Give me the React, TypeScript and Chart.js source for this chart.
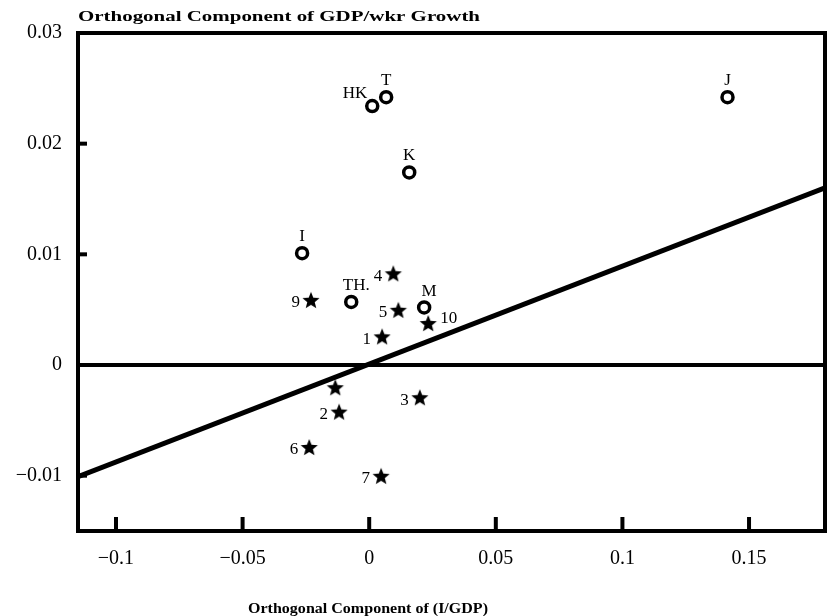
import React, { useEffect, useRef } from 'react';
import { Chart, registerables } from 'chart.js';

Chart.register(...registerables);

// ---- data ----
const circleLabels = ['HK', 'T', 'K', 'J', 'I', 'TH.', 'M'];
const circleX = [0.0012, 0.0067, 0.0158, 0.1415, -0.0265, -0.0071, 0.0217];
const circleY = [0.0234, 0.0242, 0.0174, 0.0242, 0.0101, 0.0057, 0.0052];

const starLabels = ['4', '9', '5', '1', '10', '', '3', '2', '6', '7'];
const starX = [0.0095, -0.023, 0.0115, 0.0051, 0.0233, -0.0134, 0.02, -0.0119, -0.0237, 0.0047];
const starY = [0.0082, 0.0058, 0.0049, 0.0025, 0.0037, -0.0021, -0.003, -0.0043, -0.0075, -0.0101];

const fitX = [-0.115, 0.18];
const fitY = [-0.0101, 0.016];
const zeroX = [-0.115, 0.18];
const zeroY = [0, 0];

const xTicks = [-0.1, -0.05, 0, 0.05, 0.1, 0.15];
const yTicks = [-0.01, 0, 0.01, 0.02, 0.03];

const xTitle = 'Orthogonal Component of (I/GDP)';
const yTitle = 'Orthogonal Component of GDP/wkr Growth';

// label placement (style only)
const circlePlace = ['aboveLeft', 'above', 'above', 'above', 'above', 'aboveRight', 'aboveRight'];
const starPlace = ['left', 'left', 'left', 'left', 'right', 'none', 'left', 'left', 'left', 'left'];

const SERIF = '"Liberation Serif", "Times New Roman", serif';

function makeStar(outer: number, inner: number): HTMLCanvasElement {
  const size = Math.ceil(outer * 2 + 2);
  const c = document.createElement('canvas');
  c.width = size;
  c.height = size;
  const ctx = c.getContext('2d')!;
  const cx = size / 2;
  const cy = size / 2;
  ctx.beginPath();
  for (let i = 0; i < 10; i++) {
    const r = i % 2 === 0 ? outer : inner;
    const a = -Math.PI / 2 + (i * Math.PI) / 5;
    const px = cx + r * Math.cos(a);
    const py = cy + r * Math.sin(a);
    if (i === 0) ctx.moveTo(px, py);
    else ctx.lineTo(px, py);
  }
  ctx.closePath();
  ctx.fillStyle = '#000';
  ctx.fill();
  return c;
}

const fmt = (v: number) => (v < 0 ? '\u2212' + String(Math.abs(v)) : String(v));

const decorPlugin = {
  id: 'decor',
  afterDatasetsDraw(chart: any) {
    const ctx = chart.ctx as CanvasRenderingContext2D;
    const ca = chart.chartArea;
    const xs = chart.scales.x;
    const ys = chart.scales.y;
    ctx.save();
    // point labels
    ctx.fillStyle = '#000';
    ctx.font = `17px ${SERIF}`;
    chart.data.datasets.forEach((ds: any, di: number) => {
      if (!ds.pointLabels) return;
      const meta = chart.getDatasetMeta(di);
      meta.data.forEach((el: any, i: number) => {
        const text = ds.pointLabels[i];
        const place = ds.labelPlace[i];
        if (!text || place === 'none') return;
        ctx.textBaseline = 'middle';
        let x = el.x;
        let y = el.y;
        if (place === 'left') {
          ctx.textAlign = 'right';
          x -= 11;
          y += 2;
        } else if (place === 'right') {
          ctx.textAlign = 'left';
          x += 12;
          y -= 6;
        } else if (place === 'above') {
          ctx.textAlign = 'center';
          y -= 17;
        } else if (place === 'aboveLeft') {
          ctx.textAlign = 'right';
          x -= 5;
          y -= 13;
        } else if (place === 'aboveRight') {
          ctx.textAlign = 'center';
          x += 5;
          y -= 16;
        }
        ctx.fillText(text, x, y);
      });
    });
    // frame
    ctx.strokeStyle = '#000';
    ctx.lineWidth = 4;
    ctx.strokeRect(ca.left, ca.top, ca.right - ca.left, ca.bottom - ca.top);
    // inward ticks
    ctx.lineCap = 'butt';
    xTicks.forEach((v) => {
      const px = xs.getPixelForValue(v);
      ctx.beginPath();
      ctx.moveTo(px, ca.bottom);
      ctx.lineTo(px, ca.bottom - 14);
      ctx.stroke();
    });
    yTicks.forEach((v) => {
      const py = ys.getPixelForValue(v);
      ctx.beginPath();
      ctx.moveTo(ca.left, py);
      ctx.lineTo(ca.left + 9, py);
      ctx.stroke();
    });
    // axis titles (stretched to match the wide face)
    const drawStretched = (text: string, x: number, y: number, target: number, align: 'left' | 'center') => {
      ctx.font = `bold 14px ${SERIF}`;
      ctx.textBaseline = 'middle';
      ctx.textAlign = 'left';
      const w = ctx.measureText(text).width;
      const sx = target / w;
      ctx.save();
      const startX = align === 'left' ? x : x - target / 2;
      ctx.translate(startX, y);
      ctx.scale(sx, 1);
      ctx.fillText(text, 0, 0);
      ctx.restore();
    };
    drawStretched(yTitle, ca.left, 17, 402, 'left');
    drawStretched(xTitle, 368, 609, 240, 'center');
    ctx.restore();
  },
};

export default function App() {
  const ref = useRef<HTMLCanvasElement>(null);
  useEffect(() => {
    const star = makeStar(9, 3.9);
    const chart = new Chart(ref.current!, {
      type: 'scatter',
      data: {
        datasets: [
          {
            data: circleX.map((x, i) => ({ x, y: circleY[i] })),
            pointStyle: 'circle',
            pointRadius: 5.5,
            borderWidth: 3.5,
            borderColor: '#000',
            backgroundColor: '#fff',
            pointLabels: circleLabels,
            labelPlace: circlePlace,
          } as any,
          {
            data: starX.map((x, i) => ({ x, y: starY[i] })),
            pointStyle: star,
            pointRadius: 9,
            borderWidth: 0,
            pointLabels: starLabels,
            labelPlace: starPlace,
          } as any,
          {
            type: 'line',
            data: fitX.map((x, i) => ({ x, y: fitY[i] })),
            borderColor: '#000',
            borderWidth: 5,
            pointRadius: 0,
            fill: false,
          } as any,
          {
            type: 'line',
            data: zeroX.map((x, i) => ({ x, y: zeroY[i] })),
            borderColor: '#000',
            borderWidth: 4,
            pointRadius: 0,
            fill: false,
          } as any,
        ],
      },
      options: {
        responsive: false,
        animation: false,
        devicePixelRatio: 1,
        layout: { autoPadding: false, padding: { left: 0, top: 33, right: 4, bottom: 0 } },
        plugins: { legend: { display: false }, tooltip: { enabled: false }, title: { display: false } },
        scales: {
          x: {
            type: 'linear',
            min: -0.115,
            max: 0.18,
            grid: { display: false, drawTicks: false },
            border: { display: false },
            afterBuildTicks: (s: any) => {
              s.ticks = xTicks.map((value) => ({ value }));
            },
            afterFit: (s: any) => {
              s.height = 85;
              s.paddingLeft = 0;
              s.paddingRight = 0;
            },
            ticks: {
              padding: 16,
              color: '#000',
              font: { family: SERIF, size: 20 },
              maxRotation: 0,
              autoSkip: false,
              callback: (v: any) => fmt(Number(v)),
            },
          },
          y: {
            type: 'linear',
            min: -0.015,
            max: 0.03,
            grid: { display: false, drawTicks: false },
            border: { display: false },
            afterBuildTicks: (s: any) => {
              s.ticks = yTicks.map((value) => ({ value }));
            },
            afterFit: (s: any) => {
              s.width = 78;
            },
            ticks: {
              padding: 16,
              color: '#000',
              font: { family: SERIF, size: 20 },
              autoSkip: false,
              callback: (v: any) => fmt(Number(v)),
            },
          },
        },
      },
      plugins: [decorPlugin],
    } as any);
    return () => chart.destroy();
  }, []);
  return (
    <canvas
      ref={ref}
      width={829}
      height={616}
      style={{ position: 'absolute', left: 0, top: 0, display: 'block' }}
    />
  );
}
